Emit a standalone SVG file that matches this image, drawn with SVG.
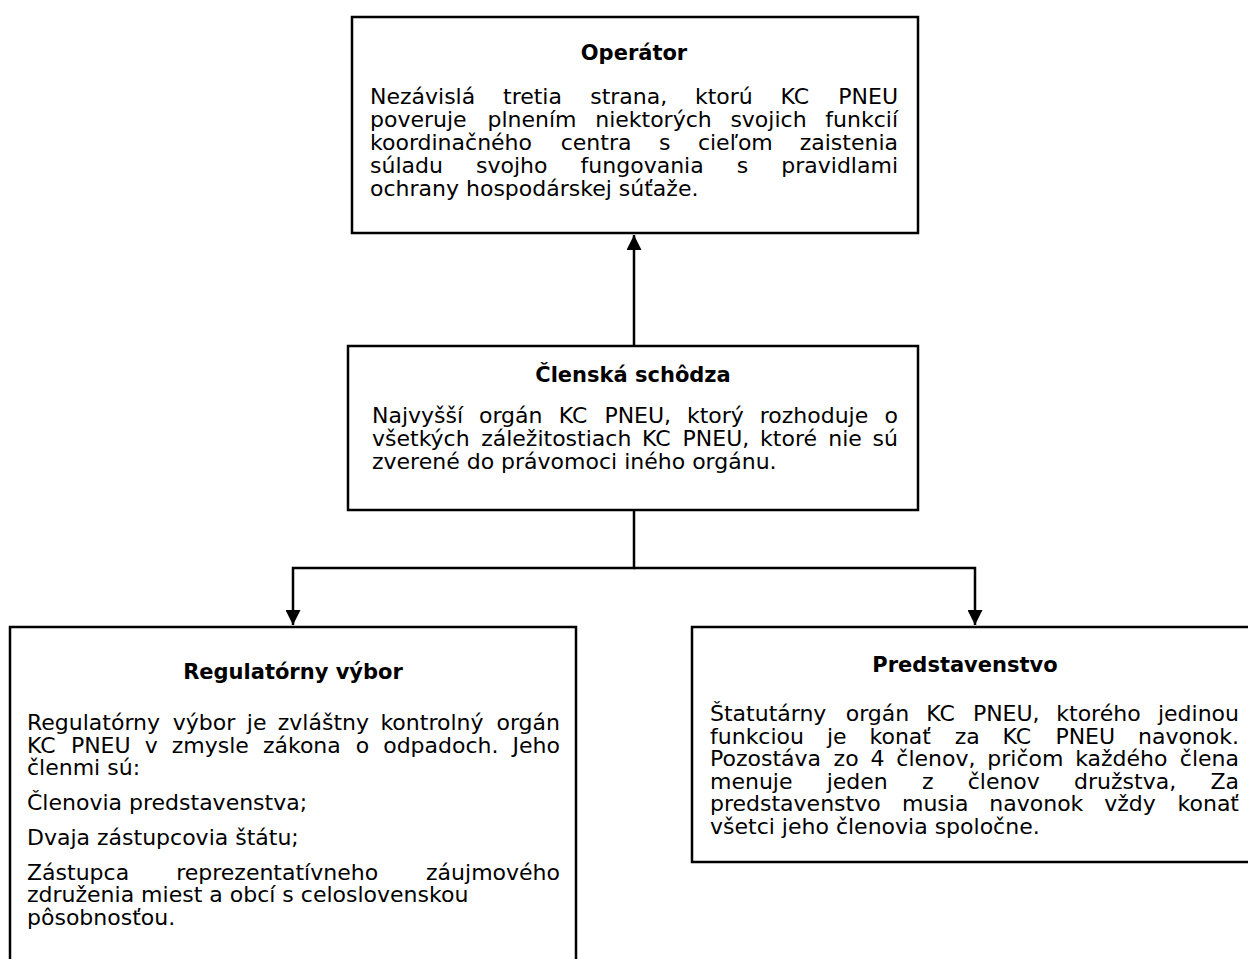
<svg xmlns="http://www.w3.org/2000/svg" width="1248" height="959" viewBox="0 0 1248 959">
<defs>
<style>
.box{fill:#fff;stroke:#000;stroke-width:2.5}
.t{font-family:"DejaVu Sans","Verdana",sans-serif;font-size:22px;fill:#000}
.h{font-family:"DejaVu Sans","Verdana",sans-serif;font-size:21px;font-weight:bold;fill:#000;text-anchor:middle}
.e{text-anchor:end}
.con{fill:none;stroke:#000;stroke-width:2.5}
</style>
<marker id="arr" viewBox="0 0 10 10" refX="10" refY="5" markerWidth="6" markerHeight="6" markerUnits="strokeWidth" orient="auto"><path d="M0,0 L10,5 L0,10 z" fill="#000"/></marker>
</defs>
<rect width="1248" height="959" fill="#fff"/>
<g id="connectors">
<path class="con" d="M634,346 L634,235" marker-end="url(#arr)"/>
<path class="con" d="M634,510 L634,568 L293,568 L293,625" marker-end="url(#arr)"/>
<path class="con" d="M634,568 L975,568 L975,625" marker-end="url(#arr)"/>
</g>
<g id="operator">
<rect class="box" x="352" y="17" width="566" height="216"/>
<text class="h" x="634" y="60">Operátor</text>
<text class="t" y="104"><tspan x="370">Nezávislá</tspan><tspan x="503">tretia</tspan><tspan x="590.2">strana,</tspan><tspan x="695">ktorú</tspan><tspan x="780.6">KC</tspan><tspan class="e" x="898">PNEU</tspan></text>
<text class="t" y="127"><tspan x="370">poveruje</tspan><tspan x="487.5">plnením</tspan><tspan x="595.2">niektorých</tspan><tspan x="730.4">svojich</tspan><tspan class="e" x="898">funkcií</tspan></text>
<text class="t" y="150"><tspan x="370">koordinačného</tspan><tspan x="560.7">centra</tspan><tspan x="658.9">s</tspan><tspan x="697.9">cieľom</tspan><tspan class="e" x="898">zaistenia</tspan></text>
<text class="t" y="173"><tspan x="370">súladu</tspan><tspan x="476">svojho</tspan><tspan x="580.6">fungovania</tspan><tspan x="736.8">s</tspan><tspan class="e" x="898">pravidlami</tspan></text>
<text class="t" x="370" y="196">ochrany hospodárskej súťaže.</text>
</g>
<g id="clenska">
<rect class="box" x="348" y="346" width="570" height="164"/>
<text class="h" x="633" y="382">Členská schôdza</text>
<text class="t" y="423"><tspan x="372">Najvyšší</tspan><tspan x="479">orgán</tspan><tspan x="558.7">KC</tspan><tspan x="604.4">PNEU,</tspan><tspan x="686.9">ktorý</tspan><tspan x="759.7">rozhoduje</tspan><tspan class="e" x="898">o</tspan></text>
<text class="t" y="446"><tspan x="372">všetkých</tspan><tspan x="481.2">záležitostiach</tspan><tspan x="642">KC</tspan><tspan x="682.6">PNEU,</tspan><tspan x="760.1">ktoré</tspan><tspan x="828.3">nie</tspan><tspan class="e" x="898">sú</tspan></text>
<text class="t" x="372" y="469">zverené do právomoci iného orgánu.</text>
</g>
<g id="regulatorny">
<rect class="box" x="10" y="627" width="566" height="345"/>
<text class="h" x="293" y="679">Regulatórny výbor</text>
<text class="t" y="730"><tspan x="27">Regulatórny</tspan><tspan x="172.8">výbor</tspan><tspan x="246.8">je</tspan><tspan x="277.8">zvláštny</tspan><tspan x="380.4">kontrolný</tspan><tspan class="e" x="560">orgán</tspan></text>
<text class="t" y="753"><tspan x="27">KC</tspan><tspan x="70.9">PNEU</tspan><tspan x="144.7">v</tspan><tspan x="171.7">zmysle</tspan><tspan x="262.9">zákona</tspan><tspan x="355.7">o</tspan><tspan x="383.2">odpadoch.</tspan><tspan class="e" x="560">Jeho</tspan></text>
<text class="t" x="27" y="775">členmi sú:</text>
<text class="t" x="27" y="810">Členovia predstavenstva;</text>
<text class="t" x="27" y="845">Dvaja zástupcovia štátu;</text>
<text class="t" y="880"><tspan x="27">Zástupca</tspan><tspan x="176.2">reprezentatívneho</tspan><tspan class="e" x="560">záujmového</tspan></text>
<text class="t" x="27" y="902">združenia miest a obcí s celoslovenskou</text>
<text class="t" x="27" y="925">pôsobnosťou.</text>
</g>
<g id="predstavenstvo">
<rect class="box" x="692" y="627" width="560" height="235"/>
<text class="h" x="965" y="672">Predstavenstvo</text>
<text class="t" y="721"><tspan x="710">Štatutárny</tspan><tspan x="845.7">orgán</tspan><tspan x="926.3">KC</tspan><tspan x="972.9">PNEU,</tspan><tspan x="1056.3">ktorého</tspan><tspan class="e" x="1239">jedinou</tspan></text>
<text class="t" y="744"><tspan x="710">funkciou</tspan><tspan x="826.9">je</tspan><tspan x="869.5">konať</tspan><tspan x="954.7">za</tspan><tspan x="1002.6">KC</tspan><tspan x="1055.4">PNEU</tspan><tspan class="e" x="1239">navonok.</tspan></text>
<text class="t" y="766"><tspan x="710">Pozostáva</tspan><tspan x="833.6">zo</tspan><tspan x="870.5">4</tspan><tspan x="896.3">členov,</tspan><tspan x="987.3">pričom</tspan><tspan x="1075.2">každého</tspan><tspan class="e" x="1239">člena</tspan></text>
<text class="t" y="789"><tspan x="710">menuje</tspan><tspan x="826.7">jeden</tspan><tspan x="922">z</tspan><tspan x="967.7">členov</tspan><tspan x="1074.1">družstva,</tspan><tspan class="e" x="1239">Za</tspan></text>
<text class="t" y="811"><tspan x="710">predstavenstvo</tspan><tspan x="902">musia</tspan><tspan x="989.3">navonok</tspan><tspan x="1104.2">vždy</tspan><tspan class="e" x="1239">konať</tspan></text>
<text class="t" x="710" y="834">všetci jeho členovia spoločne.</text>
</g>
</svg>
